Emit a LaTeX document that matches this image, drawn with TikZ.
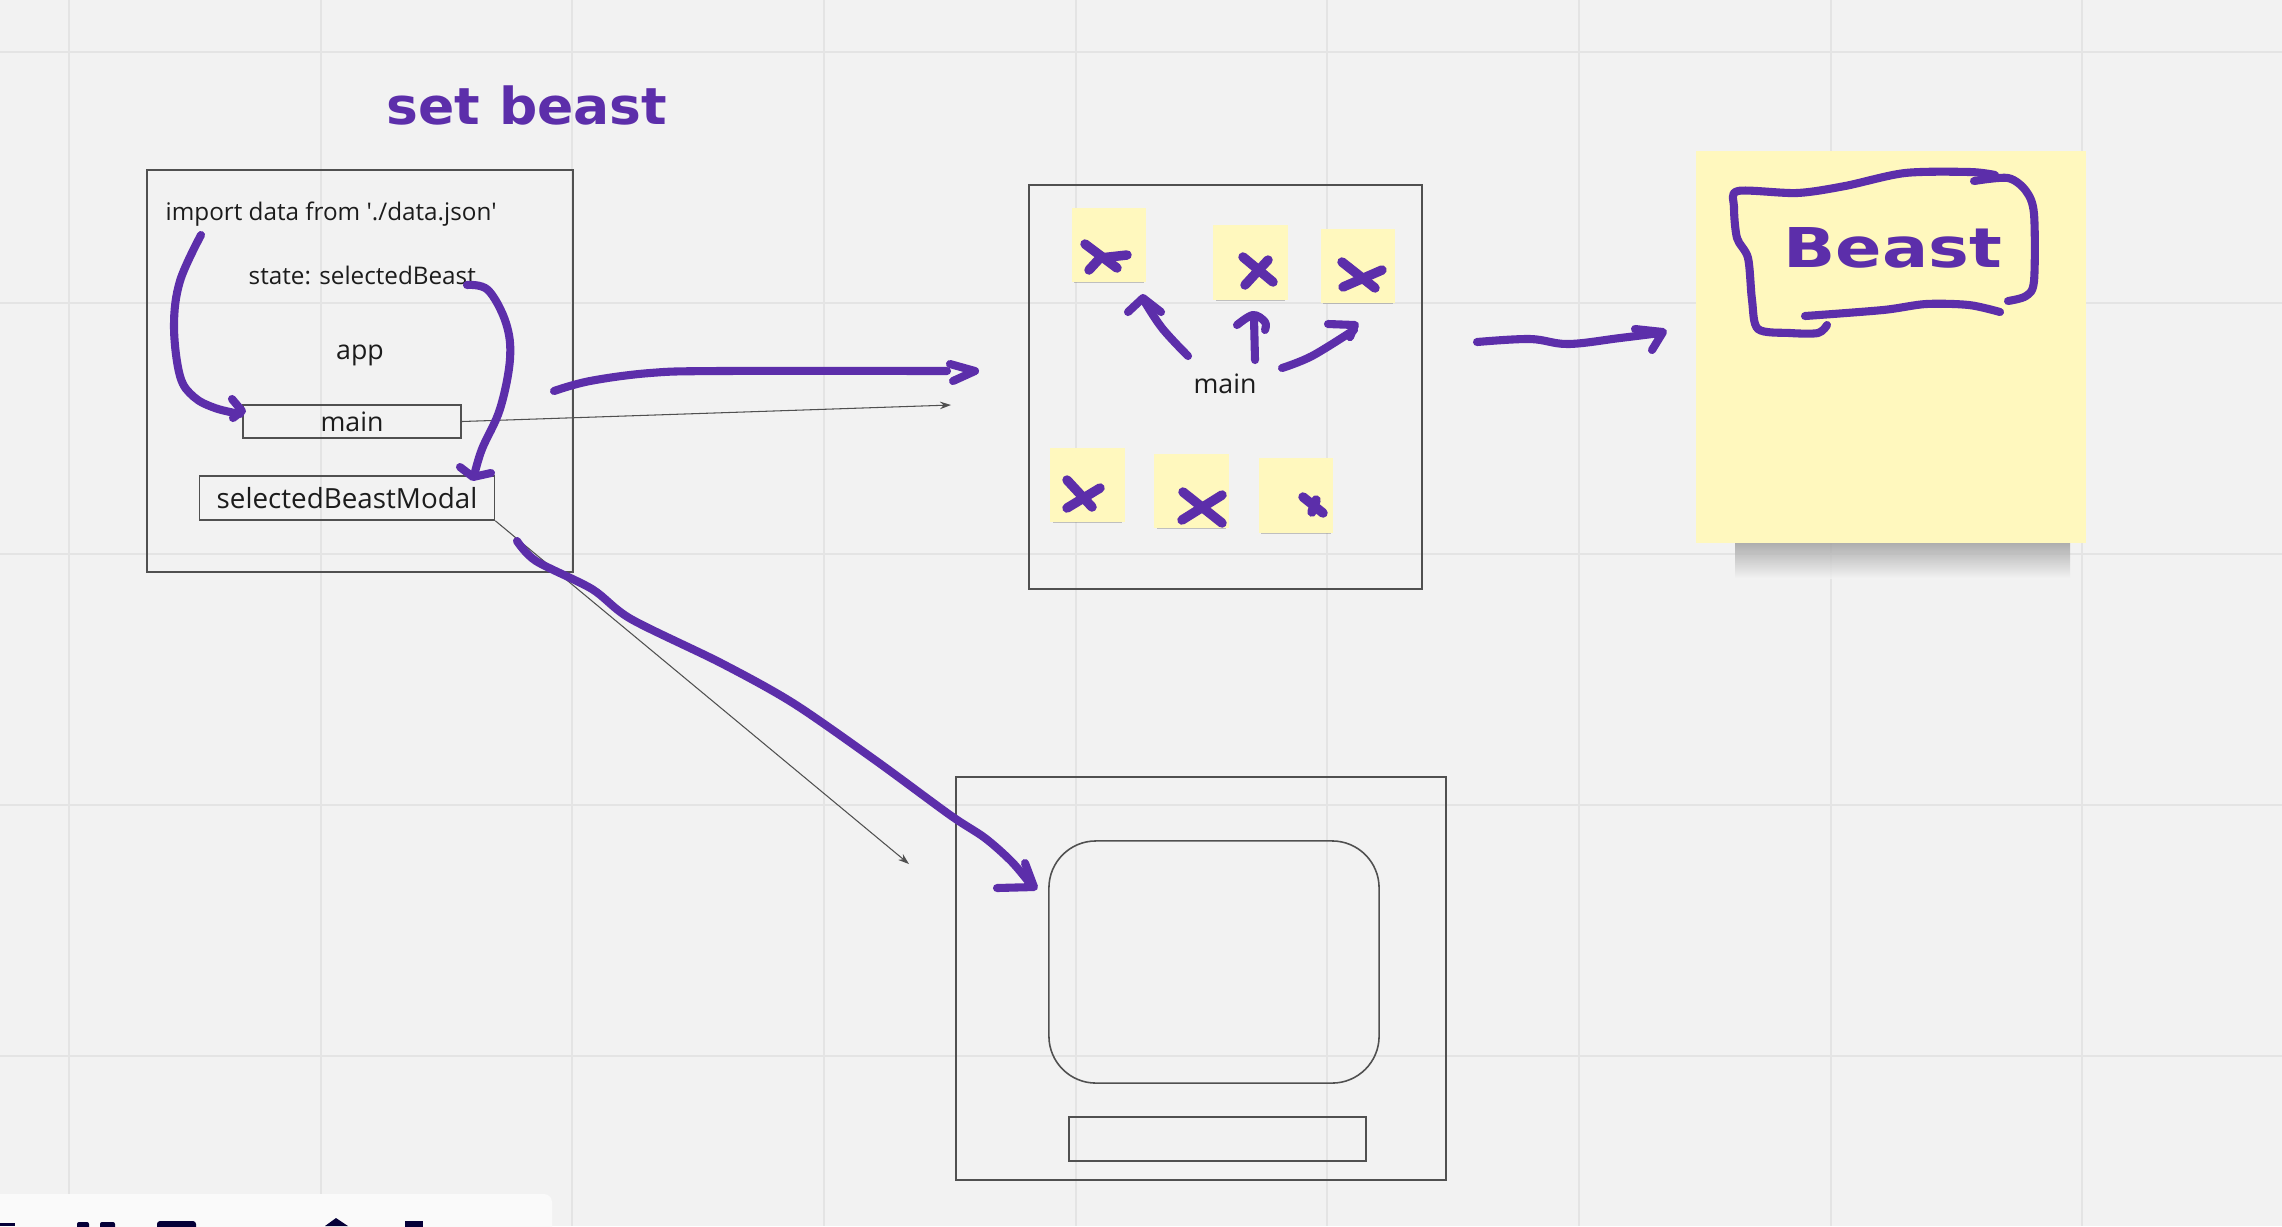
\documentclass[tikz,border=0pt]{standalone}
\usepackage{fontspec}
\setmainfont{Open Sans}
\newfontfamily\handfont{DejaVu Sans}
\usetikzlibrary{arrows.meta,shadows}
\definecolor{bstbg}{RGB}{242,242,242}
\definecolor{bstgrid}{RGB}{228,228,228}
\definecolor{bstpurple}{RGB}{92,46,170}
\definecolor{bstyellow}{RGB}{255,248,190}
\definecolor{bstline}{RGB}{80,80,80}
\definecolor{bstink}{RGB}{28,28,28}
\definecolor{bstnavy}{RGB}{5,0,56}

\begin{document}
\begin{tikzpicture}[
    x=0.01cm, y=-0.01cm,
    bstpen/.style={draw=bstpurple, line width=2.3pt, line cap=round, line join=round},
    bstgridline/.style={draw=bstgrid, line width=0.6pt},
    bstframe/.style={draw=bstline, line width=0.45pt, inner sep=0pt},
    bstbox/.style={draw=bstline, line width=0.45pt, inner sep=0pt, text=bstink},
    bstnote/.style={fill=bstyellow, inner sep=0pt, minimum size=0.74cm,
        drop shadow={shadow xshift=0cm, shadow yshift=-0.035cm, shadow scale=0.94, opacity=0.3, fill=black!70}},
    bstx/.style={bstpen, line width=2.7pt},
    bstlink/.style={draw=bstline, line width=0.3pt, -{Stealth[length=1.1mm,width=0.75mm]}},
    bsttext/.style={text=bstink, inner sep=0pt, font=\fontsize{6.9}{8}\selectfont}
]
  \useasboundingbox (0,0) rectangle (2282,1226);
  \clip (0,0) rectangle (2282,1226);
  % canvas and grid
  \fill[bstbg] (0,0) rectangle (2282,1226);
  \draw[bstgridline] (69,0) -- (69,1226);
  \draw[bstgridline] (321,0) -- (321,1226);
  \draw[bstgridline] (572,0) -- (572,1226);
  \draw[bstgridline] (824,0) -- (824,1226);
  \draw[bstgridline] (1076,0) -- (1076,1226);
  \draw[bstgridline] (1327,0) -- (1327,1226);
  \draw[bstgridline] (1579,0) -- (1579,1226);
  \draw[bstgridline] (1831,0) -- (1831,1226);
  \draw[bstgridline] (2082,0) -- (2082,1226);
  \draw[bstgridline] (0,52) -- (2282,52);
  \draw[bstgridline] (0,303) -- (2282,303);
  \draw[bstgridline] (0,554) -- (2282,554);
  \draw[bstgridline] (0,805) -- (2282,805);
  \draw[bstgridline] (0,1056) -- (2282,1056);

  % title
  \node[text=bstpurple, inner sep=0pt, anchor=base west, xscale=1.05,
        font=\handfont\bfseries\fontsize{14.5}{16}\selectfont] (settitle) at (386,124) {set beast};

  % app component
  \node[bstframe, minimum width=4.26cm, minimum height=4.02cm] (appview) at (360,371) {};
  \node[bsttext, anchor=base west] (importtxt) at (165,220) {import data from \textquotesingle./data.json\textquotesingle};
  \node[bsttext, anchor=base west] (statetxt) at (248,284.6) {state: selectedBeast};
  \node[bsttext, anchor=base, font=\fontsize{7.6}{9}\selectfont] (apptxt) at (360,359) {app};
  \node[bstbox, minimum width=2.18cm, minimum height=0.33cm, font=\fontsize{7.6}{9}\selectfont] (mainbox) at (352,421.5) {main};
  \node[bstbox, minimum width=2.95cm, minimum height=0.44cm, font=\fontsize{7.9}{9}\selectfont] (modalbox) at (347,498) {selectedBeastModal};

  % main view with the beasts
  \node[bstframe, minimum width=3.93cm, minimum height=4.04cm] (mainview) at (1225.5,387) {};
  \node[bsttext, anchor=base, font=\fontsize{7.6}{9}\selectfont] (maintxt) at (1225,393) {main};
  \node[bstnote] (note1) at (1109,245) {};
  \node[bstnote] (note2) at (1250.5,262.5) {};
  \node[bstnote] (note3) at (1358,266) {};
  \node[bstnote] (note4) at (1087.5,485) {};
  \node[bstnote] (note5) at (1191.5,491) {};
  \node[bstnote] (note6) at (1296,495.5) {};
  \draw[bstx] (1085,244) -- (1117,268);
  \draw[bstx] (1089,270) -- (1100,258) -- (1127,255);
  \draw[bstx] (1243,257) -- (1273,282);
  \draw[bstx] (1245,285) -- (1268,260);
  \draw[bstx] (1342,262) -- (1375,288);
  \draw[bstx] (1343,287) -- (1382,270);
  \draw[bstx] (1067,480) -- (1092,507);
  \draw[bstx] (1067,508) -- (1100,488);
  \draw[bstx] (1183,492) -- (1222,523);
  \draw[bstx] (1182,520) -- (1222,495);
  \draw[bstx] (1303,497) -- (1323,513);
  \draw[bstx] (1312,512) -- (1316,500);
  \draw[bstpen] plot[smooth, tension=0.6] coordinates {(1188,356) (1162,328) (1143,299)};
  \draw[bstpen] (1128,312) -- (1143,298) -- (1161,312);
  \draw[bstpen] (1255,360) -- (1254,318);
  \draw[bstpen] plot[smooth, tension=0.6] coordinates {(1237,325) (1253,315) (1265,322) (1265,330)};
  \draw[bstpen] plot[smooth, tension=0.6] coordinates {(1282,368) (1312,356) (1354,330)};
  \draw[bstpen] (1328,324) -- (1355,325) -- (1350,337);

  % the selected beast
  \shade[top color=black!40, bottom color=bstbg, opacity=0.8] (1735,541) rectangle (2070,578);
  \node[fill=bstyellow, inner sep=0pt, minimum width=3.9cm, minimum height=3.92cm] (beastnote) at (1891,347) {};
  \node[text=bstpurple, inner sep=0pt, anchor=base, xscale=1.25,
        font=\handfont\bfseries\fontsize{15.6}{17}\selectfont] (beasttxt) at (1893,267) {Beast};
  \draw[bstpen] plot[smooth, tension=0.5] coordinates {(1827,325) (1818,333) (1790,333) (1758,329) (1752,300) (1748,258) (1737,238) (1734,207) (1738,191) (1797,193) (1845,186) (1905,173) (1970,172) (1995,175)};
  \draw[bstpen] plot[smooth, tension=0.5] coordinates {(1974,181) (2008,178) (2026,191) (2034,214) (2034,281) (2026,296) (2008,301)};
  \draw[bstpen] plot[smooth, tension=0.5] coordinates {(1805,316) (1883,310) (1926,304) (1969,305) (2000,312)};

  % modal view
  \node[bstframe, minimum width=4.9cm, minimum height=4.03cm] (modalview) at (1201,978.5) {};
  \node[bstframe, minimum width=3.3cm, minimum height=2.42cm, rounded corners=0.47cm] (modalcard) at (1214,962) {};
  \node[bstframe, minimum width=2.97cm, minimum height=0.44cm] (modalbar) at (1217.5,1139) {};

  % links
  \coordinate (maintip) at (951,405);
  \coordinate (modaltip) at (909,864);
  \draw[bstlink] (mainbox.east) -- (maintip);
  \draw[bstlink] (modalbox.south east) -- (modaltip);

  % hand drawn arrows
  \draw[bstpen] plot[smooth, tension=0.6] coordinates {(201,235) (180,281) (174,326) (180,376) (194,397) (215,408) (240,414)};
  \draw[bstpen] (232,399) -- (242,411) -- (233,418);
  \draw[bstpen] plot[smooth, tension=0.6] coordinates {(467,285) (488,290) (506,323) (510,359) (500,409) (482,449) (474,476)};
  \draw[bstpen] (460,467) -- (473,477) -- (491,473);
  \draw[bstpen] plot[smooth, tension=0.6] coordinates {(554,391) (590,381) (650,373) (720,371) (947,371)};
  \draw[bstpen] (950,364) -- (975,371) -- (953,381);
  \draw[bstpen] plot[smooth, tension=0.6] coordinates {(1477,342) (1530,339) (1568,344) (1620,338) (1660,333)};
  \draw[bstpen] (1635,329) -- (1663,332) -- (1652,350);
  \draw[bstpen] plot[smooth, tension=0.5] coordinates {(517,541) (536,561) (592,589) (631,619) (721,663) (793,703) (875,760) (950,815) (985,838) (1012,862) (1032,886)};
  \draw[bstpen] (1025,863) -- (1034,887) -- (997,888);

  % toolbar
  \fill[white!60!bstbg, rounded corners=0.08cm] (-20,1194) rectangle (552,1250);
  \fill[bstnavy] (0,1223) rectangle (15,1226);
  \fill[bstnavy, rounded corners=0.02cm] (77,1222) rectangle (89,1230);
  \fill[bstnavy, rounded corners=0.02cm] (100,1222) rectangle (115,1230);
  \fill[bstnavy, rounded corners=0.03cm] (157,1221) rectangle (196,1232);
  \fill[bstnavy] (325,1226) -- (336,1218) -- (348,1226) -- cycle;
  \fill[bstnavy] (405,1221) rectangle (423,1230);
\end{tikzpicture}
\end{document}
